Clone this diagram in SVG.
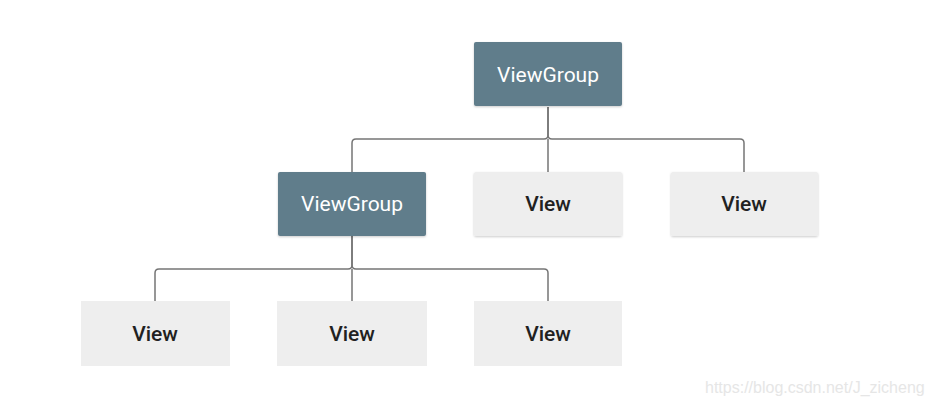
<svg xmlns="http://www.w3.org/2000/svg" width="930" height="407" viewBox="0 0 930 407">
<defs>
<filter id="sh" x="-10%" y="-10%" width="120%" height="130%">
<feDropShadow dx="0" dy="1" stdDeviation="1" flood-color="#000" flood-opacity="0.2"/>
</filter>
<style>
.vg rect{fill:#607D8B;filter:url(#sh)}
.v rect{fill:#EEEEEE;filter:url(#sh)}
.v rect.flat{filter:none}
.vg text{fill:#FFFFFF;font-family:Roboto,"Liberation Sans",sans-serif;font-size:21px;text-anchor:middle}
.v text{fill:#212121;font-family:Roboto,"Liberation Sans",sans-serif;font-size:21px;font-weight:500;text-anchor:middle}
.c path{fill:none;stroke:#757575;stroke-width:1.5}
.wm{fill:#E6E6E6;font-family:"Liberation Sans",Arial,sans-serif;font-size:16px}
</style>
</defs>
<rect width="930" height="407" fill="#FFFFFF"/>
<g class="c" id="connectors">
<path d="M548,107 V135 Q548,139 544,139 H356 Q352,139 352,143 V172"/>
<path d="M548,107 V135 Q548,139 552,139 H740 Q744,139 744,143 V172"/>
<path d="M548,139 V172"/>
<path d="M352,236 V265 Q352,269 348,269 H159 Q155,269 155,273 V301"/>
<path d="M352,236 V265 Q352,269 356,269 H544 Q548,269 548,273 V301"/>
<path d="M352,269 V301"/>
</g>
<g id="root" class="vg"><rect x="474" y="42" width="148" height="64" rx="2"/><text x="548" y="82">ViewGroup</text></g>
<g id="vg2" class="vg"><rect x="278" y="172" width="148" height="64" rx="2"/><text x="352" y="211">ViewGroup</text></g>
<g id="v1" class="v"><rect x="474" y="172" width="148" height="64" rx="2"/><text x="548" y="211">View</text></g>
<g id="v2" class="v"><rect x="671" y="172" width="147" height="64" rx="2"/><text x="744" y="211">View</text></g>
<g id="v3" class="v"><rect class="flat" x="81" y="301" width="149" height="65"/><text x="155" y="341">View</text></g>
<g id="v4" class="v"><rect class="flat" x="277" y="301" width="150" height="65"/><text x="352" y="341">View</text></g>
<g id="v5" class="v"><rect class="flat" x="474" y="301" width="148" height="65"/><text x="548" y="341">View</text></g>
<text class="wm" x="705" y="393">https://blog.csdn.net/J_zicheng</text>
</svg>
